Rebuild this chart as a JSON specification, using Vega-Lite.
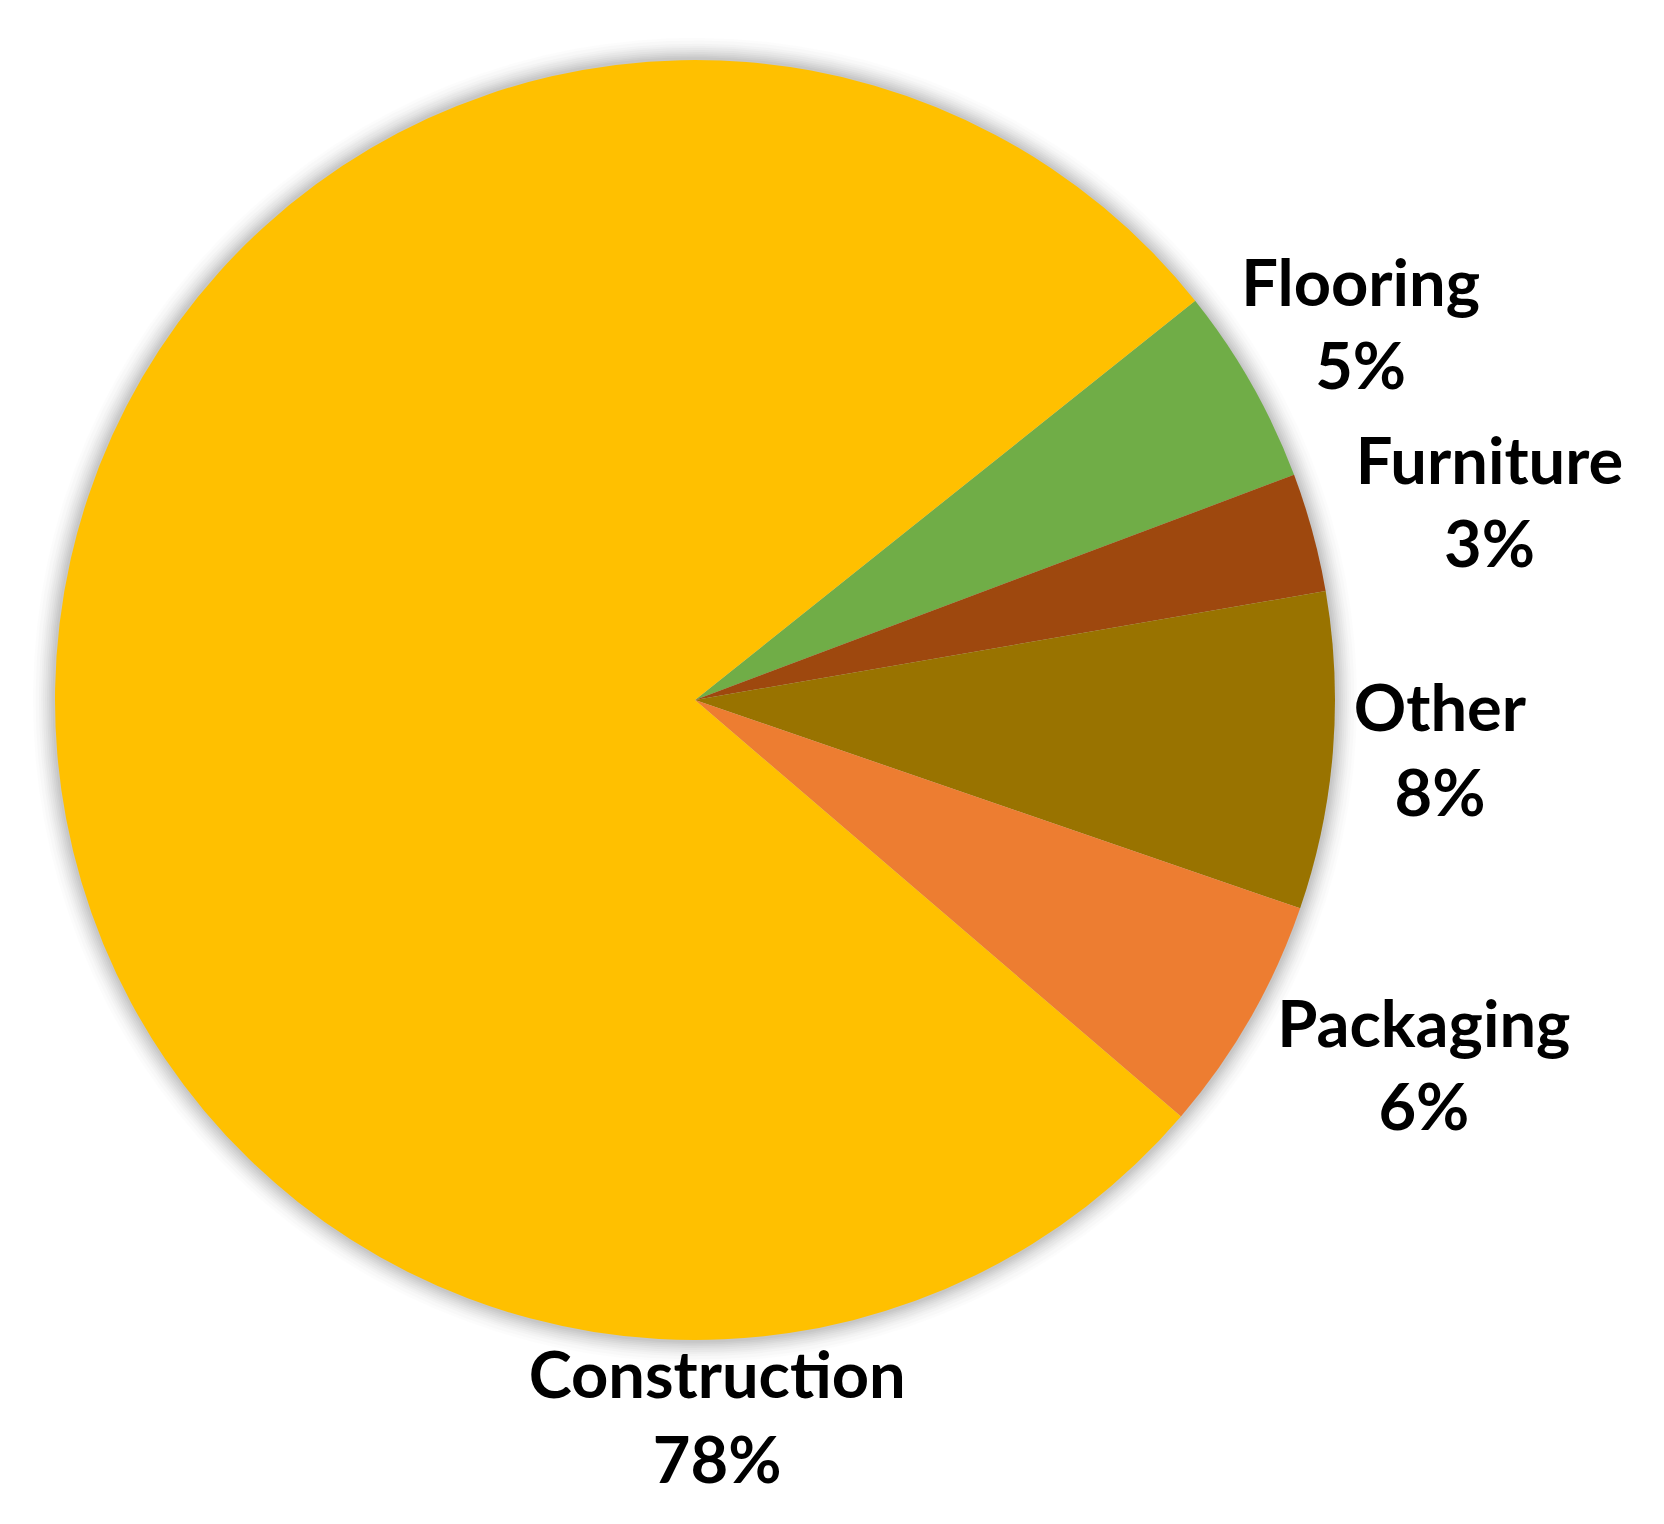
{
  "$schema": "https://vega.github.io/schema/vega-lite/v6.json",
  "width": 1390,
  "height": 1400,
  "padding": 0,
  "autosize": {"type": "pad"},
  "background": "white",
  "view": {"stroke": null},
  "data": {
    "values": [
      {"category": "Flooring", "value": 5, "order": 1},
      {"category": "Furniture", "value": 3, "order": 2},
      {"category": "Other", "value": 8, "order": 3},
      {"category": "Packaging", "value": 6, "order": 4},
      {"category": "Construction", "value": 78, "order": 5}
    ]
  },
  "transform": [
    {"stack": "value", "groupby": [], "sort": [{"field": "order", "order": "ascending"}], "as": ["v0", "v1"]},
    {"calculate": "(datum.v0 + datum.v1) / 2", "as": "mid"},
    {"calculate": "datum.category + '\\n' + datum.value + '%'", "as": "label"}
  ],
  "layer": [
    {
      "transform": [{"aggregate": [{"op": "min", "field": "v0", "as": "v0"}, {"op": "max", "field": "v1", "as": "v1"}]}],
      "layer": [
        {"mark": {"type": "arc", "radius": 662, "fill": "black", "opacity": 0.012}, "encoding": {"theta": {"field": "v0", "type": "quantitative", "scale": {"domain": [0, 100], "range": [0.8971, 7.1803]}}, "theta2": {"field": "v1"}}},
        {"mark": {"type": "arc", "radius": 659, "fill": "black", "opacity": 0.015}, "encoding": {"theta": {"field": "v0", "type": "quantitative"}, "theta2": {"field": "v1"}}},
        {"mark": {"type": "arc", "radius": 656, "fill": "black", "opacity": 0.018}, "encoding": {"theta": {"field": "v0", "type": "quantitative"}, "theta2": {"field": "v1"}}},
        {"mark": {"type": "arc", "radius": 654, "fill": "black", "opacity": 0.02}, "encoding": {"theta": {"field": "v0", "type": "quantitative"}, "theta2": {"field": "v1"}}},
        {"mark": {"type": "arc", "radius": 652, "fill": "black", "opacity": 0.022}, "encoding": {"theta": {"field": "v0", "type": "quantitative"}, "theta2": {"field": "v1"}}},
        {"mark": {"type": "arc", "radius": 650, "fill": "black", "opacity": 0.024}, "encoding": {"theta": {"field": "v0", "type": "quantitative"}, "theta2": {"field": "v1"}}},
        {"mark": {"type": "arc", "radius": 648, "fill": "black", "opacity": 0.026}, "encoding": {"theta": {"field": "v0", "type": "quantitative"}, "theta2": {"field": "v1"}}},
        {"mark": {"type": "arc", "radius": 646, "fill": "black", "opacity": 0.028}, "encoding": {"theta": {"field": "v0", "type": "quantitative"}, "theta2": {"field": "v1"}}},
        {"mark": {"type": "arc", "radius": 644, "fill": "black", "opacity": 0.03}, "encoding": {"theta": {"field": "v0", "type": "quantitative"}, "theta2": {"field": "v1"}}},
        {"mark": {"type": "arc", "radius": 642, "fill": "black", "opacity": 0.03}, "encoding": {"theta": {"field": "v0", "type": "quantitative"}, "theta2": {"field": "v1"}}}
      ]
    },
    {
      "mark": {"type": "arc", "radius": 640, "stroke": null},
      "encoding": {
        "theta": {"field": "v0", "type": "quantitative", "scale": {"domain": [0, 100], "range": [0.8971, 7.1803]}},
        "theta2": {"field": "v1"},
        "color": {
          "field": "category",
          "type": "nominal",
          "scale": {
            "domain": ["Flooring", "Furniture", "Other", "Packaging", "Construction"],
            "range": ["#70AD47", "#9E480E", "#997300", "#ED7D31", "#FFC000"]
          },
          "legend": null
        }
      }
    },
    {
      "transform": [{"filter": "datum.category === 'Flooring'"}],
      "mark": {"type": "text", "radius": 784, "thetaOffset": -0.040, "font": "Lato", "fontWeight": "bold", "fontSize": 65, "lineBreak": "\n", "lineHeight": 83, "align": "center", "baseline": "middle", "color": "#000000"},
      "encoding": {"theta": {"field": "mid", "type": "quantitative"}, "text": {"field": "label"}}
    },
    {
      "transform": [{"filter": "datum.category === 'Furniture'"}],
      "mark": {"type": "text", "radius": 829, "thetaOffset": -0.024, "font": "Lato", "fontWeight": "bold", "fontSize": 65, "lineBreak": "\n", "lineHeight": 83, "align": "center", "baseline": "middle", "color": "#000000"},
      "encoding": {"theta": {"field": "mid", "type": "quantitative"}, "text": {"field": "label"}}
    },
    {
      "transform": [{"filter": "datum.category === 'Other'"}],
      "mark": {"type": "text", "radius": 745, "thetaOffset": -0.066, "font": "Lato", "fontWeight": "bold", "fontSize": 65, "lineBreak": "\n", "lineHeight": 85, "align": "center", "baseline": "middle", "color": "#000000"},
      "encoding": {"theta": {"field": "mid", "type": "quantitative"}, "text": {"field": "label"}}
    },
    {
      "transform": [{"filter": "datum.category === 'Packaging'"}],
      "mark": {"type": "text", "radius": 799, "thetaOffset": -0.098, "font": "Lato", "fontWeight": "bold", "fontSize": 65, "lineBreak": "\n", "lineHeight": 83, "align": "center", "baseline": "middle", "color": "#000000"},
      "encoding": {"theta": {"field": "mid", "type": "quantitative"}, "text": {"field": "label"}}
    },
    {
      "transform": [{"filter": "datum.category === 'Construction'"}],
      "mark": {"type": "text", "radius": 678, "thetaOffset": -1.621, "font": "Lato", "fontWeight": "bold", "fontSize": 65, "lineBreak": "\n", "lineHeight": 85, "align": "center", "baseline": "middle", "color": "#000000"},
      "encoding": {"theta": {"field": "mid", "type": "quantitative"}, "text": {"field": "label"}}
    }
  ]
}
